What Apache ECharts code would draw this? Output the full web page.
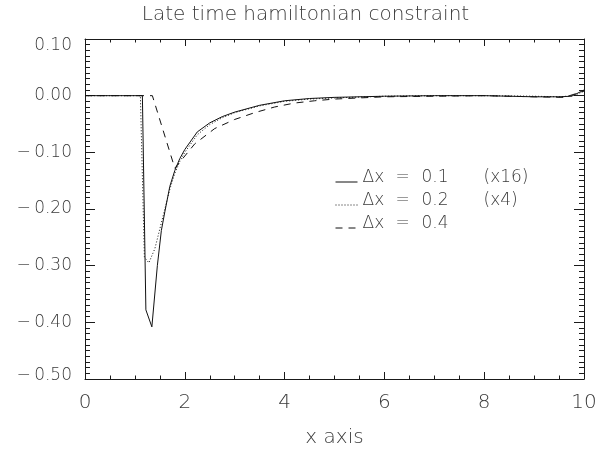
<!DOCTYPE html>
<html>
<head>
<meta charset="utf-8">
<script src="https://cdn.jsdelivr.net/npm/echarts@6/dist/echarts.min.js"></script>
<style>
  html, body { margin: 0; padding: 0; background: #fff; }
  #chart { width: 611px; height: 453px; }
</style>
</head>
<body>
<div id="chart"></div>
<script>
// Hamiltonian constraint at late time for three grid resolutions
const xTicks = [0, 2, 4, 6, 8, 10];
const yTicks = [0.10, 0.00, -0.10, -0.20, -0.30, -0.40, -0.50];

const dxValues = ['0.1', '0.2', '0.4'];
const dxScales = ['(x16)', '(x4)', ''];

// Δx = 0.1, scaled by 16
const xFine = [0, 1.15, 1.22, 1.34, 1.45, 1.53, 1.6, 1.7, 1.8, 1.9, 2.0, 2.25, 2.5, 2.75, 3.0, 3.5, 4.0, 4.5, 5.0, 6.0, 7.0, 8.0, 8.5, 9.0, 9.5, 9.75, 10.0];
const yFine = [0, 0, -0.378, -0.408, -0.300, -0.238, -0.205, -0.160, -0.132, -0.111, -0.095, -0.064, -0.048, -0.037, -0.029, -0.017, -0.009, -0.005, -0.003, -0.001, 0, 0, -0.001, -0.002, -0.002, -0.001, 0.010];

// Δx = 0.2, scaled by 4
const xMedium = [0, 1.11, 1.19, 1.28, 1.4, 1.5, 1.6, 1.7, 1.8, 1.9, 2.0, 2.25, 2.5, 2.75, 3.0, 3.5, 4.0, 4.5, 5.0, 6.0, 7.0, 8.0, 9.0, 9.5, 9.8, 10.0];
const yMedium = [0, 0, -0.285, -0.295, -0.270, -0.235, -0.200, -0.165, -0.137, -0.116, -0.100, -0.069, -0.051, -0.039, -0.030, -0.018, -0.010, -0.006, -0.004, -0.001, 0, 0, -0.001, -0.002, 0, 0.008];

// Δx = 0.4, unscaled
const xCoarse = [0, 1.35, 1.8, 2.2, 2.6, 3.0, 3.4, 3.8, 4.2, 4.6, 5.0, 5.5, 6.0, 7.0, 8.0, 9.0, 9.6, 10.0];
const yCoarse = [0, 0, -0.128, -0.085, -0.058, -0.042, -0.030, -0.020, -0.013, -0.009, -0.006, -0.004, -0.002, -0.001, 0, -0.002, -0.003, 0.008];

const pair = (xs, ys) => xs.map((x, i) => [x, ys[i]]);
const seriesNames = dxValues.map(v => 'dx' + v);

const FONT = "'DejaVu Sans', 'Liberation Sans', sans-serif";
const INK = '#1a1a1a';
const TEXT = '#3a3a3a';

const xAxisBase = {
  type: 'value', min: 0, max: 10, interval: 2,
  axisLine: { show: true, onZero: false, lineStyle: { color: INK, width: 1 } },
  axisTick: { show: true, inside: true, length: 7, lineStyle: { color: INK } },
  minorTick: { show: true, splitNumber: 4, length: 3.5, lineStyle: { color: INK } },
  splitLine: { show: false }
};
const yAxisBase = {
  type: 'value', min: -0.5, max: 0.1, interval: 0.1,
  axisLine: { show: true, onZero: false, lineStyle: { color: INK, width: 1 } },
  axisTick: { show: true, inside: true, length: 10, lineStyle: { color: INK } },
  minorTick: { show: true, splitNumber: 10, length: 5, lineStyle: { color: INK } },
  splitLine: { show: false }
};

const fmtY = v => {
  const s = Math.abs(v).toFixed(2);
  const txt = (v < -1e-9 ? '\u2212\u2009' : '') + s;
  if (Math.abs(v - 0.1) < 1e-6) return '{top|' + txt + '}';
  if (Math.abs(v + 0.5) < 1e-6) return '{bot|' + txt + '}';
  return txt;
};

const legendCell = w => Object.assign(w ? { width: w } : {}, {
  fontSize: 17, lineHeight: 17, padding: [0, 0, 9, 0],
  fontFamily: FONT, fontWeight: 200, color: TEXT
});

const chart = echarts.init(document.getElementById('chart'), null, { renderer: 'canvas' });
chart.setOption({
  animation: false,
  backgroundColor: '#fff',
  textStyle: { fontFamily: FONT },
  title: {
    text: 'Late time hamiltonian constraint',
    left: 'center', top: 0,
    textStyle: { fontFamily: FONT, fontSize: 20, fontWeight: 200, color: TEXT }
  },
  grid: { left: 85, right: 27, top: 39, bottom: 69, containLabel: false },
  legend: {
    orient: 'vertical', left: 330, top: 164,
    itemWidth: 22, itemHeight: 10, itemGap: -3,
    selectedMode: false,
    data: seriesNames,
    itemStyle: { color: 'rgba(0,0,0,0)', borderWidth: 0, opacity: 0 },
    lineStyle: { width: 1 },
    formatter: name => {
      const i = seriesNames.indexOf(name);
      return '{a|\u0394x}{b|=}{c|' + dxValues[i] + '}{d|' + dxScales[i] + '}';
    },
    textStyle: {
      fontFamily: FONT, fontSize: 17, fontWeight: 200, color: TEXT,
      rich: { a: legendCell(33), b: legendCell(26), c: legendCell(62), d: legendCell(0) }
    }
  },
  xAxis: [
    Object.assign({}, xAxisBase, {
      position: 'bottom',
      name: 'x axis', nameLocation: 'middle', nameGap: 49,
      nameTextStyle: { fontFamily: FONT, fontSize: 20, fontWeight: 200, color: TEXT },
      axisLabel: { show: true, margin: 14, fontSize: 20, fontWeight: 200, color: TEXT, fontFamily: FONT,
        formatter: v => String(v) }
    }),
    Object.assign({}, xAxisBase, { position: 'top', axisLabel: { show: false } })
  ],
  yAxis: [
    Object.assign({}, yAxisBase, {
      position: 'left',
      axisLabel: { show: true, margin: 13, fontSize: 17, fontWeight: 200, color: TEXT, fontFamily: FONT,
        formatter: fmtY,
        rich: {
          top: { fontSize: 17, fontWeight: 200, color: TEXT, fontFamily: FONT, padding: [13, 0, 0, 0] },
          bot: { fontSize: 17, fontWeight: 200, color: TEXT, fontFamily: FONT, padding: [0, 0, 6, 0] }
        } }
    }),
    Object.assign({}, yAxisBase, { position: 'right', axisLabel: { show: false } })
  ],
  series: [
    {
      name: seriesNames[0], type: 'line', xAxisIndex: 0, yAxisIndex: 0,
      data: pair(xFine, yFine), symbol: 'none', smooth: false,
      lineStyle: { color: '#111', width: 1, type: 'solid' },
      itemStyle: { color: '#111' }
    },
    {
      name: seriesNames[1], type: 'line', xAxisIndex: 0, yAxisIndex: 0,
      data: pair(xMedium, yMedium), symbol: 'none', smooth: false,
      lineStyle: { color: '#111', width: 1, type: [1, 2] },
      itemStyle: { color: '#111' }
    },
    {
      name: seriesNames[2], type: 'line', xAxisIndex: 0, yAxisIndex: 0,
      data: pair(xCoarse, yCoarse), symbol: 'none', smooth: false,
      lineStyle: { color: '#111', width: 1, type: [7, 6] },
      itemStyle: { color: '#111' }
    }
  ]
});
</script>
</body>
</html>
